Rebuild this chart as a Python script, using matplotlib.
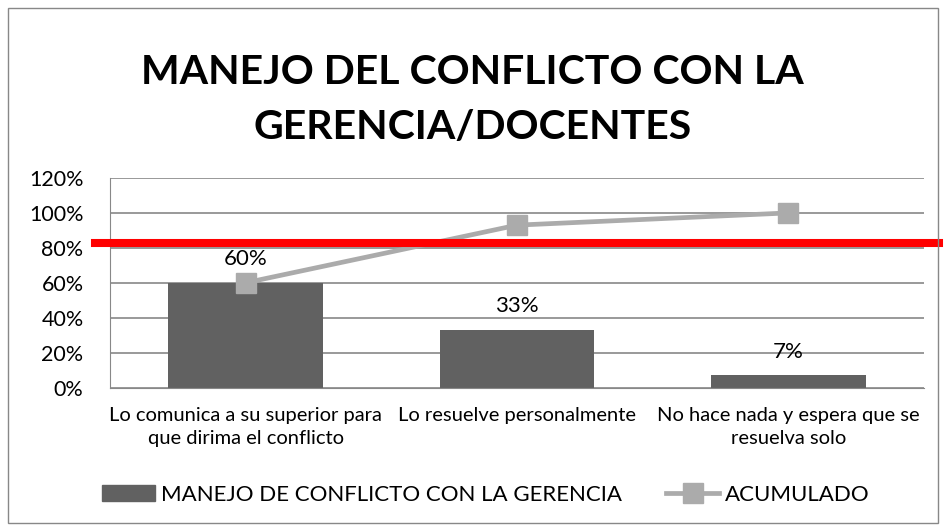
import numpy as np
import matplotlib.pyplot as plt
from matplotlib.patches import Rectangle
from matplotlib.lines import Line2D

plt.rcParams['font.family'] = ['Lato', 'DejaVu Sans']

categorias = ["Lo comunica a su superior para\nque dirima el conflicto",
              "Lo resuelve personalmente",
              "No hace nada y espera que se\nresuelva solo"]
porcentaje = [0.60, 0.33, 0.07]
acumulado = [0.60, 0.93, 1.00]
etiquetas = ["60%", "33%", "7%"]
limite = 0.826
yticks = [0, 0.2, 0.4, 0.6, 0.8, 1.0, 1.2]
series = ["MANEJO DE CONFLICTO CON LA GERENCIA", "ACUMULADO"]

gris_barra = "#616161"
gris_linea = "#ABABAB"

fig = plt.figure(figsize=(9.45, 5.31), dpi=100)
ax = fig.add_axes([0.1164, 0.2702, 0.8614, 0.3946])

x = np.arange(len(categorias))
ax.bar(x, porcentaje, width=0.57, color=gris_barra, zorder=2)
ax.plot(x, acumulado, color=gris_linea, lw=3.4, marker="s", ms=14, zorder=3)
for xi, v, t in zip(x, porcentaje, etiquetas):
    ax.annotate(t, (xi, v), xytext=(0, 17), textcoords="offset points",
                ha="center", va="center", fontsize=16, color="#000000", zorder=4)

ax.set_xlim(-0.5, 2.5)
ax.set_ylim(0, 1.2)
ax.set_yticks(yticks)
ax.set_yticklabels(["%d%%" % round(v * 100) for v in yticks], fontsize=15.5)
ax.set_xticks(x)
ax.set_xticklabels(categorias, fontsize=14.5, linespacing=1.4)
ax.tick_params(axis="y", length=0, pad=19)
ax.tick_params(axis="x", length=0, pad=14)
ax.grid(axis="y", color="#888888", lw=1.2, zorder=0)
for s in ["top", "right"]:
    ax.spines[s].set_visible(False)
ax.spines["left"].set_color("#888888")
ax.spines["bottom"].set_color("#888888")

# linea roja de referencia, sobresale del area de trazado
ax.axhline(limite, xmin=-0.018, xmax=1.018, color="#FF0000", lw=5.8, zorder=5, clip_on=False)

fig.text(0.5, 0.864, "MANEJO DEL CONFLICTO CON LA", ha="center", va="center",
         fontsize=29.5, fontweight="bold")
fig.text(0.5, 0.76, "GERENCIA/DOCENTES", ha="center", va="center",
         fontsize=29.5, fontweight="bold")

h1 = Rectangle((0, 0), 1, 1, color=gris_barra)
h2 = Line2D([], [], color=gris_linea, lw=3.4, marker="s", ms=14)
fig.legend([h1, h2], series,
           loc="center", bbox_to_anchor=(0.514, 0.068), ncol=2, frameon=False,
           fontsize=16, handlelength=2.4, handletextpad=0.25, columnspacing=2.0)

fig.add_artist(Rectangle((0.008, 0.015), 0.985, 0.97, transform=fig.transFigure,
                         fill=False, edgecolor="#888888", lw=1))

fig.savefig("out.png", dpi=100)
